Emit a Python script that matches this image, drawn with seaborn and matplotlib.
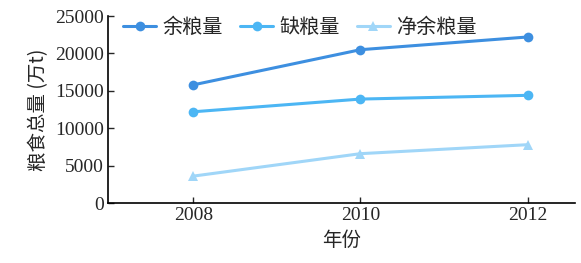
import matplotlib
matplotlib.use("Agg")
import matplotlib.pyplot as plt
import seaborn as sns
import pandas as pd

years = [2008, 2010, 2012]
surplus = [15800, 20500, 22200]
deficit = [12200, 13900, 14400]
net_surplus = [3600, 6600, 7800]
series_names = ["余粮量", "缺粮量", "净余粮量"]
colors = ["#3d8fe0", "#4cb6f4", "#a0d6f8"]
markers = ["o", "o", "^"]
y_ticks = [0, 5000, 10000, 15000, 20000, 25000]
x_ticks = [2008, 2010, 2012]

sns.set_theme(style="ticks")
plt.rcParams["font.family"] = ["Liberation Serif", "Noto Sans CJK SC", "DejaVu Sans"]

df = pd.DataFrame({
    "年份": years * 3,
    "value": surplus + deficit + net_surplus,
    "series": [series_names[0]] * 3 + [series_names[1]] * 3 + [series_names[2]] * 3,
})

fig = plt.figure(figsize=(5.81, 2.63), dpi=100)
ax = fig.add_axes([0.186, 0.228, 0.804, 0.711])
sns.lineplot(data=df, x="年份", y="value", hue="series", style="series",
             palette=dict(zip(series_names, colors)),
             markers=dict(zip(series_names, markers)), dashes=False,
             linewidth=2.2, markersize=7, markeredgewidth=0, ax=ax)

ax.set_xlim(2006.98, 2012.57)
ax.set_ylim(0, 25000)
ax.set_xticks(x_ticks)
ax.set_yticks(y_ticks)
ax.tick_params(direction="in", labelsize=14, length=4, width=1, pad=3)
ax.set_xlabel("年份", fontsize=14, family=["Noto Sans CJK SC"])
ax.set_ylabel("粮食总量 (万t)", fontsize=14, family=["Noto Sans CJK SC", "Liberation Serif"])
for s in ["top", "right"]:
    ax.spines[s].set_visible(False)
for s in ["left", "bottom"]:
    ax.spines[s].set_linewidth(1.2)
    ax.spines[s].set_color("black")

leg = ax.legend(loc="upper left", ncol=3, frameon=False,
                handlelength=1.65, columnspacing=0.85, handletextpad=0.3,
                borderaxespad=0.0, bbox_to_anchor=(0.015, 1.04),
                prop={"family": ["Noto Sans CJK SC"], "size": 14.5})

fig.savefig("out.png", dpi=100)
